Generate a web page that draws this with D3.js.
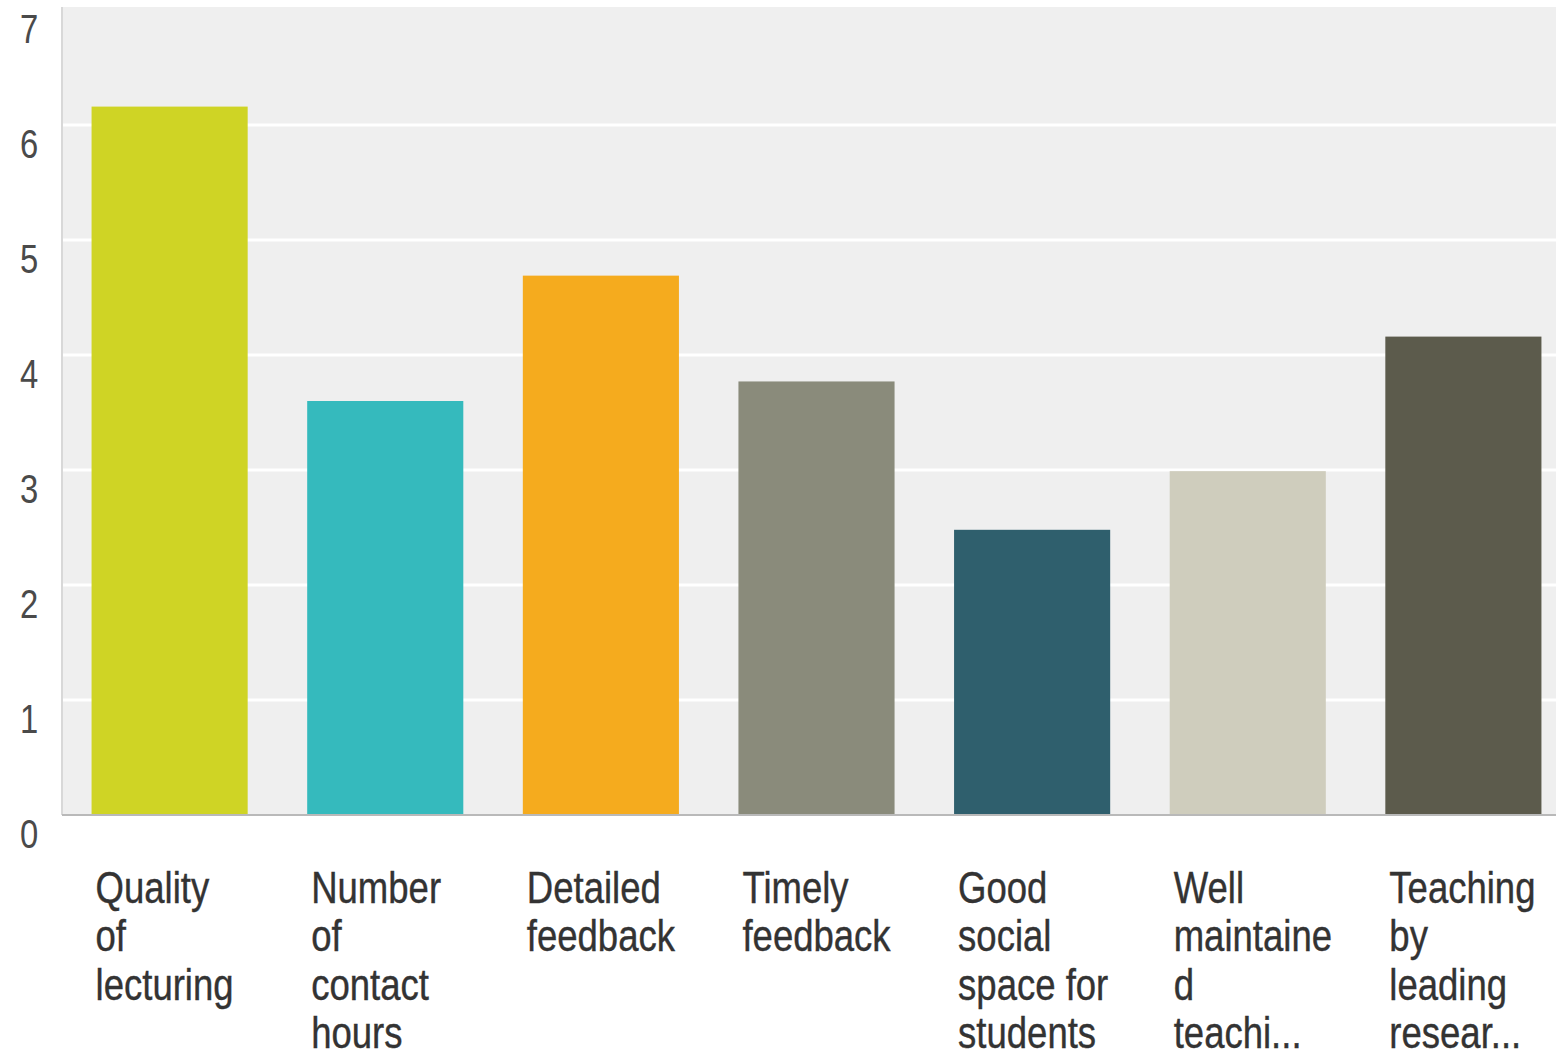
<!DOCTYPE html>
<html>
<head>
<meta charset="utf-8">
<script src="https://cdn.jsdelivr.net/npm/d3@7"></script>
<style>
  html, body { margin: 0; padding: 0; background: #ffffff; }
  svg { display: block; }
  .lbl { font-family: "Liberation Sans", Arial, sans-serif; }
</style>
</head>
<body>
<svg id="chart" width="1566" height="1054"></svg>
<script>
// Survey: what matters most to students (average rating)
const categories = [
  "Quality of lecturing",
  "Number of contact hours",
  "Detailed feedback",
  "Timely feedback",
  "Good social space for students",
  "Well maintained teaching facilities",
  "Teaching by leading researchers"
];
// Category labels as displayed, wrapped and truncated per line
const categoryLines = [
  ["Quality", "of", "lecturing"],
  ["Number", "of", "contact", "hours"],
  ["Detailed", "feedback"],
  ["Timely", "feedback"],
  ["Good", "social", "space for", "students"],
  ["Well", "maintaine", "d", "teachi..."],
  ["Teaching", "by", "leading", "resear..."]
];
const values = [6.16, 3.6, 4.69, 3.77, 2.48, 2.99, 4.16];
const barColors = ["#cfd425", "#35babd", "#f5ab1e", "#8a8b7b", "#2f5f6d", "#cfcdbd", "#5c5b4c"];
const yTicks = [0, 1, 2, 3, 4, 5, 6, 7];

const svg = d3.select("#chart");
const plot = { left: 62, right: 1556, top: 10, bottom: 815 };

// condensed look: squeeze a regular sans horizontally
const squeeze = 0.83;

const x = d3.scaleBand()
  .domain(categories)
  .range([70, 1563])
  .paddingInner(0.276)
  .paddingOuter(0.1);

const y = d3.scaleLinear()
  .domain([0, 7])
  .range([plot.bottom, plot.top]);

// plot background
svg.append("rect")
  .attr("x", plot.left).attr("y", plot.top - 3)
  .attr("width", plot.right - plot.left)
  .attr("height", plot.bottom - plot.top + 3)
  .attr("fill", "#efefef");

// left frame line
svg.append("line")
  .attr("x1", plot.left).attr("x2", plot.left)
  .attr("y1", plot.top - 3).attr("y2", plot.bottom)
  .attr("stroke", "#d8d8d8").attr("stroke-width", 2);

// horizontal gridlines
svg.append("g")
  .selectAll("line")
  .data(yTicks.filter(d => d > 0 && d < 7))
  .join("line")
  .attr("x1", plot.left + 1).attr("x2", plot.right)
  .attr("y1", d => y(d)).attr("y2", d => y(d))
  .attr("stroke", "#ffffff").attr("stroke-width", 3);

// bars
svg.append("g")
  .selectAll("rect")
  .data(values)
  .join("rect")
  .attr("x", (d, i) => x(categories[i]))
  .attr("y", d => y(d))
  .attr("width", x.bandwidth())
  .attr("height", d => y(0) - y(d))
  .attr("fill", (d, i) => barColors[i]);

// baseline axis
svg.append("line")
  .attr("x1", plot.left).attr("x2", plot.right)
  .attr("y1", y(0)).attr("y2", y(0))
  .attr("stroke", "#b9b9b9").attr("stroke-width", 2);

// y tick labels (sitting just below their gridline)
svg.append("g")
  .selectAll("text")
  .data(yTicks)
  .join("text")
  .attr("class", "lbl")
  .attr("transform", d => `translate(29,${y(d) + 33}) scale(0.8,1)`)
  .attr("text-anchor", "middle")
  .attr("font-size", 41)
  .attr("fill", "#4a4a4a")
  .text(d => d);

// category labels
const catG = svg.append("g")
  .selectAll("text")
  .data(categories)
  .join("text")
  .attr("class", "lbl")
  .attr("font-size", 44)
  .attr("fill", "#333333")
  .attr("stroke", "#333333")
  .attr("stroke-width", 0.4)
  .attr("transform", d => `translate(${x(d) + 4},903) scale(${squeeze},1)`);

catG.selectAll("tspan")
  .data((d, i) => categoryLines[i])
  .join("tspan")
  .attr("x", 0)
  .attr("dy", (d, j) => j === 0 ? 0 : 48.5)
  .text(d => d);
</script>
</body>
</html>
